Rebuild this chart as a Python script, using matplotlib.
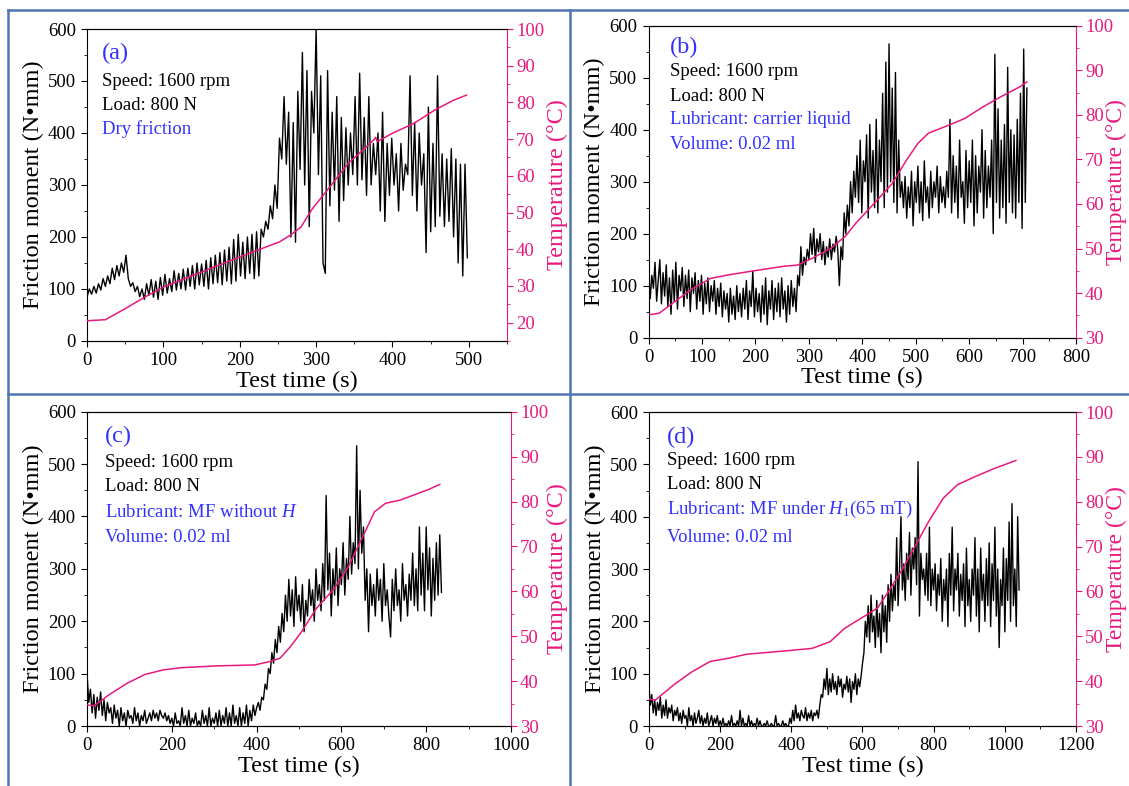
import numpy as np
import matplotlib
matplotlib.use("Agg")
import matplotlib.pyplot as plt
from matplotlib.lines import Line2D
from matplotlib.ticker import MultipleLocator

plt.rcParams['font.family'] = ['Liberation Serif', 'DejaVu Serif']
plt.rcParams['mathtext.fontset'] = 'custom'
plt.rcParams['mathtext.rm'] = 'Liberation Serif'
plt.rcParams['mathtext.it'] = 'Liberation Serif:italic'

PINK = '#e8197d'
BLUE = '#3030ff'
FRAME = '#4f77b0'

# ---- (a) dry friction, sampled every 3 s
fric_a = [85, 100, 90, 105, 92, 110, 98, 120, 105, 125,
          110, 140, 118, 145, 125, 150, 132, 165, 120, 105,
          112, 95, 105, 85, 100, 80, 110, 88, 118, 84,
          115, 80, 122, 88, 128, 92, 120, 95, 135, 98,
          130, 100, 138, 98, 140, 105, 145, 100, 150, 108,
          148, 105, 155, 100, 160, 110, 165, 112, 170, 108,
          175, 115, 180, 110, 195, 115, 205, 125, 190, 120,
          200, 130, 205, 120, 210, 125, 215, 200, 230, 215,
          260, 235, 300, 255, 390, 350, 470, 340, 440, 200,
          420, 190, 480, 330, 555, 300, 520, 220, 480, 400,
          600, 320, 510, 150, 130, 520, 260, 440, 290, 470,
          230, 430, 270, 410, 300, 400, 320, 470, 300, 515,
          310, 430, 280, 470, 300, 380, 320, 400, 250, 440,
          230, 380, 280, 390, 300, 360, 250, 380, 290, 340,
          320, 510, 280, 420, 250, 400, 300, 360, 170, 450,
          210, 380, 220, 510, 240, 360, 220, 350, 230, 370,
          200, 350, 150, 340, 125, 340, 160]
temp_t_a = [0, 24, 50, 76, 100, 150, 200, 252, 266, 280, 295, 318, 342, 361,
            375, 378, 380, 399, 428, 456, 480, 497]
temp_a = [20.5, 20.8, 23.8, 27.0, 29.7, 33.8, 37.9, 42.0, 43.8, 46.0, 51.0,
          57.0, 63.4, 67.0, 69.7, 70.5, 69.3, 71.5, 74.3, 78.0, 80.6, 82.0]

# ---- (b) carrier liquid, sampled every 3 s
fric_b = [130, 75, 120, 95, 145, 70, 110, 150, 65, 125,
          80, 140, 60, 115, 45, 130, 70, 145, 55, 120,
          90, 135, 60, 120, 75, 130, 50, 115, 85, 125,
          55, 110, 70, 120, 45, 105, 65, 115, 50, 100,
          70, 110, 45, 95, 60, 105, 40, 90, 55, 85,
          30, 95, 45, 80, 35, 100, 50, 85, 40, 95,
          55, 110, 35, 90, 60, 128, 40, 95, 50, 85,
          30, 100, 45, 115, 25, 90, 55, 110, 35, 95,
          50, 105, 40, 115, 55, 90, 30, 100, 45, 110,
          60, 95, 50, 120, 100, 175, 120, 155, 140, 170,
          150, 200, 160, 210, 145, 190, 165, 200, 150, 185,
          140, 175, 155, 190, 150, 180, 165, 195, 170, 100,
          175, 150, 240, 200, 255, 215, 300, 240, 320, 270,
          350, 260, 380, 240, 340, 300, 390, 230, 410, 280,
          360, 250, 420, 240, 380, 300, 470, 250, 530, 280,
          565, 300, 480, 260, 510, 240, 380, 270, 300, 250,
          310, 230, 290, 250, 320, 215, 300, 260, 330, 240,
          300, 225, 340, 260, 290, 230, 320, 250, 300, 270,
          330, 240, 310, 260, 290, 250, 320, 270, 420, 240,
          350, 260, 330, 230, 380, 270, 300, 220, 360, 250,
          340, 260, 380, 215, 350, 240, 330, 280, 400, 230,
          360, 250, 330, 270, 380, 200, 545, 260, 440, 230,
          380, 250, 410, 220, 520, 260, 400, 240, 390, 230,
          420, 260, 470, 210, 555, 260, 480]
temp_t_b = [0, 20, 48, 82, 116, 150, 197, 252, 279, 306, 340, 368, 388, 422,
            456, 483, 504, 524, 558, 592, 626, 660, 695, 708]
temp_b = [35.1, 35.5, 38.0, 41.0, 43.3, 44.1, 45.0, 46.0, 46.3, 47.8, 50.0,
          52.7, 55.7, 60.1, 64.6, 69.9, 73.6, 75.9, 77.5, 79.2, 81.8, 84.1,
          86.3, 87.4]

# ---- (c) MF without H, sampled every 4 s
fric_c = [100, 45, 70, 25, 60, 15, 55, 30, 65, 20,
          50, 10, 45, 25, 35, 5, 40, 15, 30, 0,
          35, 10, 25, 0, 30, 15, 20, 5, 35, 10,
          25, 0, 20, 10, 30, 5, 15, 25, 10, 30,
          15, 25, 10, 30, 20, 15, 25, 10, 20, 5,
          15, 0, 25, 5, 10, 0, 35, 5, 20, 0,
          30, 0, 15, 5, 25, 0, 10, 0, 30, 5,
          20, 0, 35, 0, 15, 5, 25, 0, 30, 0,
          20, 5, 35, 0, 25, 0, 40, 5, 20, 0,
          35, 0, 25, 5, 40, 0, 30, 10, 40, 20,
          35, 45, 30, 55, 50, 80, 70, 110, 100, 140,
          120, 165, 140, 190, 160, 215, 180, 250, 200, 280,
          210, 260, 190, 285, 220, 250, 200, 270, 180, 240,
          210, 280, 230, 260, 200, 300, 240, 270, 220, 310,
          240, 440, 260, 330, 210, 300, 250, 340, 230, 300,
          270, 350, 250, 320, 280, 400, 290, 350, 310, 535,
          300, 450, 330, 380, 240, 300, 180, 290, 230, 270,
          210, 300, 240, 280, 200, 310, 230, 260, 210, 170,
          280, 220, 300, 230, 260, 200, 310, 240, 270, 210,
          290, 240, 330, 230, 300, 220, 380, 250, 330, 220,
          380, 260, 340, 210, 320, 240, 350, 250, 365, 255]
temp_t_c = [0, 17, 51, 94, 137, 180, 223, 309, 395, 429, 455, 480, 506, 541,
            583, 618, 652, 678, 704, 738, 781, 806, 832]
temp_c = [34.7, 34.5, 36.9, 39.5, 41.5, 42.5, 43.0, 43.4, 43.6, 44.3, 45.1,
          47.7, 51.0, 56.2, 60.6, 65.8, 72.5, 77.7, 79.6, 80.3, 81.8, 82.7,
          83.8]

# ---- (d) MF under H1 (65 mT), sampled every 4 s
fric_d = [75, 40, 60, 25, 50, 20, 45, 30, 55, 15,
          40, 20, 50, 15, 35, 25, 40, 10, 30, 20,
          35, 10, 25, 5, 30, 15, 20, 0, 35, 10,
          20, 0, 25, 5, 15, 30, 5, 20, 0, 15,
          5, 25, 0, 10, 20, 0, 15, 5, 20, 0,
          10, 0, 15, 0, 5, 0, 10, 0, 20, 0,
          5, 0, 10, 0, 30, 0, 15, 0, 5, 0,
          20, 0, 10, 0, 5, 0, 15, 0, 10, 0,
          0, 5, 0, 10, 0, 0, 5, 0, 0, 20,
          0, 5, 0, 0, 10, 0, 5, 0, 0, 15,
          5, 30, 10, 40, 15, 25, 10, 30, 20, 15,
          35, 10, 25, 15, 30, 10, 25, 20, 30, 15,
          40, 60, 55, 90, 70, 110, 60, 90, 65, 100,
          70, 85, 60, 95, 75, 90, 55, 80, 70, 95,
          65, 90, 45, 85, 70, 100, 60, 90, 75, 95,
          120, 140, 200, 170, 230, 160, 250, 180, 210, 150,
          240, 170, 215, 140, 250, 180, 230, 160, 270, 200,
          290, 220, 270, 240, 360, 230, 300, 400, 260, 310,
          240, 330, 280, 370, 250, 340, 300, 360, 270, 505,
          210, 330, 280, 300, 250, 330, 240, 380, 230, 300,
          260, 310, 220, 290, 250, 320, 200, 280, 240, 300,
          190, 330, 250, 380, 220, 300, 260, 330, 210, 290,
          240, 310, 190, 340, 230, 280, 200, 300, 250, 360,
          210, 300, 180, 340, 240, 290, 200, 320, 230, 350,
          190, 310, 240, 380, 210, 300, 150, 280, 230, 340,
          180, 320, 240, 390, 200, 425, 230, 300, 190, 400,
          260]
temp_t_d = [0, 18, 70, 121, 172, 223, 274, 376, 458, 509, 550, 581, 612, 642,
            673, 714, 745, 786, 827, 867, 919, 970, 1031]
temp_d = [36.0, 35.8, 39.2, 42.1, 44.4, 45.1, 46.0, 46.7, 47.3, 48.8, 51.8,
          53.3, 54.8, 56.3, 60.0, 65.2, 69.7, 75.6, 80.8, 83.8, 85.7, 87.4,
          89.2]

panels = [
    dict(rect=[0.0771, 0.5662, 0.3720, 0.3969], fric=fric_a, dt=3,
         tt=temp_t_a, temp=temp_a, xmax=550, xstep=100, tlo=15,
         rlab=1.095, rsize=17.5,
         tag='(a)', lines=[('Speed: 1600 rpm', 'k'), ('Load: 800 N', 'k'),
                           ('Dry friction', BLUE)],
         ys=[0.923, 0.833, 0.756, 0.68], x0=0.036),
    dict(rect=[0.5745, 0.5704, 0.3786, 0.3969], fric=fric_b, dt=3,
         tt=temp_t_b, temp=temp_b, xmax=800, xstep=100, tlo=30,
         rlab=1.07, rsize=17,
         tag='(b)', lines=[('Speed: 1600 rpm', 'k'), ('Load: 800 N', 'k'),
                           ('Lubricant: carrier liquid', BLUE),
                           ('Volume: 0.02 ml', BLUE)],
         ys=[0.93, 0.853, 0.772, 0.70, 0.62], x0=0.05),
    dict(rect=[0.0771, 0.0763, 0.3755, 0.3999], fric=fric_c, dt=4,
         tt=temp_t_c, temp=temp_c, xmax=1000, xstep=200, tlo=30,
         rlab=1.085, rsize=17.5,
         tag='(c)', lines=[('Speed: 1600 rpm', 'k'), ('Load: 800 N', 'k'),
                           ('Lubricant: MF without $H$', BLUE),
                           ('Volume: 0.02 ml', BLUE)],
         ys=[0.92, 0.837, 0.762, 0.68, 0.60], x0=0.042),
    dict(rect=[0.5748, 0.0763, 0.3783, 0.3995], fric=fric_d, dt=4,
         tt=temp_t_d, temp=temp_d, xmax=1200, xstep=200, tlo=30,
         rlab=1.07, rsize=17,
         tag='(d)', lines=[('Speed: 1600 rpm', 'k'), ('Load: 800 N', 'k'),
                           ('Lubricant: MF under $H_1$(65 mT)', BLUE),
                           ('Volume: 0.02 ml', BLUE)],
         ys=[0.92, 0.845, 0.77, 0.69, 0.60], x0=0.043),
]

fig = plt.figure(figsize=(11.29, 7.86), dpi=100)

for p in panels:
    ax = fig.add_axes(p['rect'])
    t = np.arange(len(p['fric'])) * p['dt']
    ax.plot(t, p['fric'], color='black', lw=1.0)
    ax.set_xlim(0, p['xmax'])
    ax.set_ylim(0, 600)
    ax.xaxis.set_major_locator(MultipleLocator(p['xstep']))
    ax.xaxis.set_minor_locator(MultipleLocator(p['xstep'] / 2))
    ax.yaxis.set_major_locator(MultipleLocator(100))
    ax.yaxis.set_minor_locator(MultipleLocator(50))
    ax.tick_params(which='both', direction='out', labelsize=13.5, top=False, right=False)
    ax.tick_params(which='major', length=4.5)
    ax.tick_params(which='minor', length=2.5)
    ax.set_xlabel('Test time (s)', fontsize=17.5, labelpad=1)
    ax.set_ylabel('Friction moment (N\u2022mm)', fontsize=17.5, labelpad=3)
    ax.spines['right'].set_visible(False)

    ax2 = ax.twinx()
    ax2.plot(p['tt'], p['temp'], color=PINK, lw=1.1)
    ax2.set_ylim(p['tlo'], 100)
    ax2.yaxis.set_major_locator(MultipleLocator(10))
    ax2.yaxis.set_minor_locator(MultipleLocator(5))
    ax2.tick_params(which='both', colors=PINK, labelsize=13.5, pad=2)
    ax2.tick_params(which='major', length=4.5)
    ax2.tick_params(which='minor', length=2.5)
    ax2.spines['right'].set_color(PINK)
    ax2.spines['left'].set_visible(False)
    ax2.set_ylabel('Temperature (\u00b0C)', color=PINK, fontsize=p['rsize'])
    ax2.yaxis.set_label_coords(p['rlab'], 0.5)

    ax.text(p['x0'], p['ys'][0], p['tag'], transform=ax.transAxes,
            color=BLUE, fontsize=17.5, va='center')
    for (txt, c), y in zip(p['lines'], p['ys'][1:]):
        ax.text(p['x0'], y, txt, transform=ax.transAxes, color=c,
                fontsize=13.5, va='center')

# panel frame lines
for xs, ys in [([0.007, 1.0], [0.987, 0.987]), ([0.007, 0.007], [0.0, 0.987]),
               ([0.505, 0.505], [0.0, 0.987]), ([0.007, 1.0], [0.499, 0.499])]:
    fig.add_artist(Line2D(xs, ys, transform=fig.transFigure, color=FRAME, lw=1.8))

fig.savefig('out.png', dpi=100, facecolor='white')
